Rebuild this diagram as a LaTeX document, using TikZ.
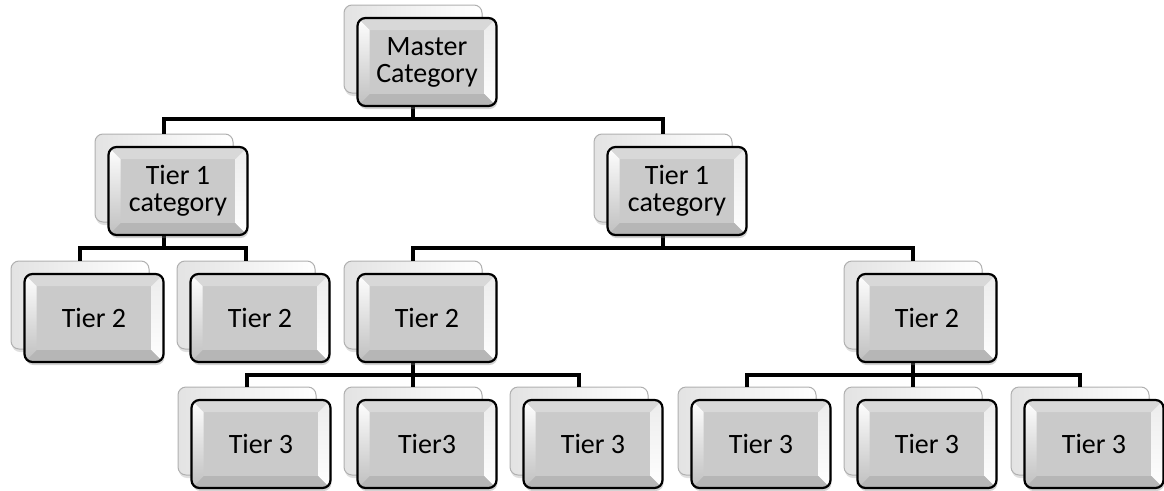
\documentclass[tikz,border=0pt]{standalone}
\usepackage{fontspec}
\setmainfont{Carlito}
\usetikzlibrary{shadows}
\definecolor{cardface}{HTML}{CACACA}
\definecolor{beveltop}{HTML}{D8D8D8}
\definecolor{bevelbottom}{HTML}{B6B6B6}
\definecolor{backedge}{HTML}{B0B0B0}

\begin{document}
\begin{tikzpicture}[x=1pt,y=-1pt,
		backcard/.style={rectangle,rounded corners=8pt,minimum width=138pt,minimum height=88pt,
			draw=backedge,line width=1pt,left color=gray!22,right color=white,
			drop shadow={shadow xshift=1pt,shadow yshift=-3pt,opacity=0.25}},
		frontcard/.style={rectangle,rounded corners=8pt,minimum width=139pt,minimum height=88pt,
			draw=black,line width=2.2pt,fill=cardface,align=center,
			font=\fontsize{28}{27}\selectfont,
			drop shadow={shadow xshift=1pt,shadow yshift=-3pt,opacity=0.35},
			path picture={
				\fill[beveltop,sharp corners] (path picture bounding box.north west) -- (path picture bounding box.north east)
					-- ([shift={(-12pt,-12pt)}]path picture bounding box.north east) -- ([shift={(12pt,-12pt)}]path picture bounding box.north west) -- cycle;
				\fill[bevelbottom,sharp corners] (path picture bounding box.south west) -- (path picture bounding box.south east)
					-- ([shift={(-12pt,12pt)}]path picture bounding box.south east) -- ([shift={(12pt,12pt)}]path picture bounding box.south west) -- cycle;
				\shade[top color=white,bottom color=gray!50,sharp corners] (path picture bounding box.north west) -- (path picture bounding box.south west)
					-- ([shift={(12pt,12pt)}]path picture bounding box.south west) -- ([shift={(12pt,-12pt)}]path picture bounding box.north west) -- cycle;
				\shade[top color=gray!15,bottom color=white,sharp corners] (path picture bounding box.north east) -- (path picture bounding box.south east)
					-- ([shift={(-12pt,12pt)}]path picture bounding box.south east) -- ([shift={(-12pt,-12pt)}]path picture bounding box.north east) -- cycle;
			}},
		link/.style={line width=4.5pt,line join=miter}]
	\useasboundingbox (0,0) rectangle (1164,490);
	\foreach \n/\x/\y in {m/413/49, t1a/164/178, t1b/663/178,
			t2a/80/305, t2b/246/305, t2c/413/305, t2d/913/305,
			t3a/247/431, t3b/413/431, t3c/579/431, t3d/747/431, t3e/913/431, t3f/1080/431}
		\node[backcard] (\n-b) at (\x,\y) {};
	\foreach \p/\c in {m/t1a, m/t1b, t1a/t2a, t1a/t2b, t1b/t2c, t1b/t2d,
			t2c/t3a, t2c/t3b, t2c/t3c, t2d/t3d, t2d/t3e, t2d/t3f}
		\draw[link] (\p-b.center) -- ++(0,70) -| (\c-b.north);
	\foreach \n/\t in {m/{Master\\Category}, t1a/{Tier 1\\category}, t1b/{Tier 1\\category},
			t2a/{Tier 2}, t2b/{Tier 2}, t2c/{Tier 2}, t2d/{Tier 2},
			t3a/{Tier 3}, t3b/{Tier3}, t3c/{Tier 3}, t3d/{Tier 3}, t3e/{Tier 3}, t3f/{Tier 3}}
		\node[frontcard] (\n) at ([shift={(14pt,-13pt)}]\n-b) {\t};
\end{tikzpicture}
\end{document}
